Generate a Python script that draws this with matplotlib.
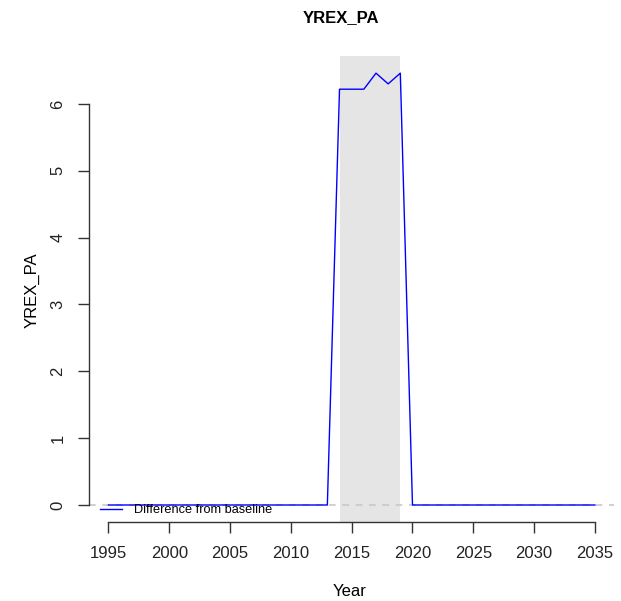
import numpy as np
import matplotlib
matplotlib.use("Agg")
import matplotlib.pyplot as plt

plt.rcParams['font.family'] = ['Liberation Sans', 'DejaVu Sans']

# data
years = list(range(1995, 2036))
diff_values = [0.0] * 19 + [6.22, 6.22, 6.22, 6.46, 6.30, 6.46] + [0.0] * 16
shade_start = 2014
shade_end = 2019
x_ticks = [1995, 2000, 2005, 2010, 2015, 2020, 2025, 2030, 2035]
y_ticks = [0, 1, 2, 3, 4, 5, 6]
series_label = "Difference from baseline"
var_name = "YREX_PA"

fig = plt.figure(figsize=(6.21, 6.01), dpi=100)
ax = fig.add_axes([0.1433, 0.131, 0.846, 0.776])

x = np.array(years)
y = np.array(diff_values)

# R-style 4% padding
xr = x.max() - x.min()
yr = y.max() - y.min()
ax.set_xlim(x.min() - 0.04 * xr, x.max() + 0.04 * xr)
ax.set_ylim(y.min() - 0.04 * yr, y.max() + 0.04 * yr)

ax.axvspan(shade_start, shade_end, color='#e5e5e5', lw=0, zorder=1)
ax.axhline(0, color='#c8c8c8', linestyle=(0, (4, 4)), lw=1.2, zorder=2)
ax.plot(x, y, color='#0000ff', lw=1.0, label=series_label, zorder=3)

for side in ['top', 'right']:
    ax.spines[side].set_visible(False)
ax.spines['left'].set_bounds(0, 6)
ax.spines['bottom'].set_bounds(1995, 2035)
for side in ['left', 'bottom']:
    ax.spines[side].set_color('#333333')
    ax.spines[side].set_linewidth(1.0)

ax.set_xticks(x_ticks)
ax.set_yticks(y_ticks)
ax.tick_params(axis='both', length=8, width=1.0, color='#333333', labelsize=12, labelcolor='#222222')
ax.tick_params(axis='x', pad=9)
ax.tick_params(axis='y', pad=9)
for lbl in ax.get_yticklabels():
    lbl.set_rotation(90)
    lbl.set_va('center')

ax.legend(loc='center left', bbox_to_anchor=(100 / 621, 1 - 510 / 601), bbox_transform=fig.transFigure,
          frameon=False, fontsize=9.2, handlelength=1.75, handletextpad=0.9, borderpad=0, borderaxespad=0)

fig.text(341 / 621, 1 - 18 / 601, var_name, ha='center', va='center', fontsize=12, fontweight='bold')
fig.text(350 / 621, 1 - 592 / 601, "Year", ha='center', va='center', fontsize=12)
fig.text(32 / 621, 1 - 290 / 601, var_name, ha='center', va='center', fontsize=12, rotation=90)

fig.savefig("out.png", dpi=100)
